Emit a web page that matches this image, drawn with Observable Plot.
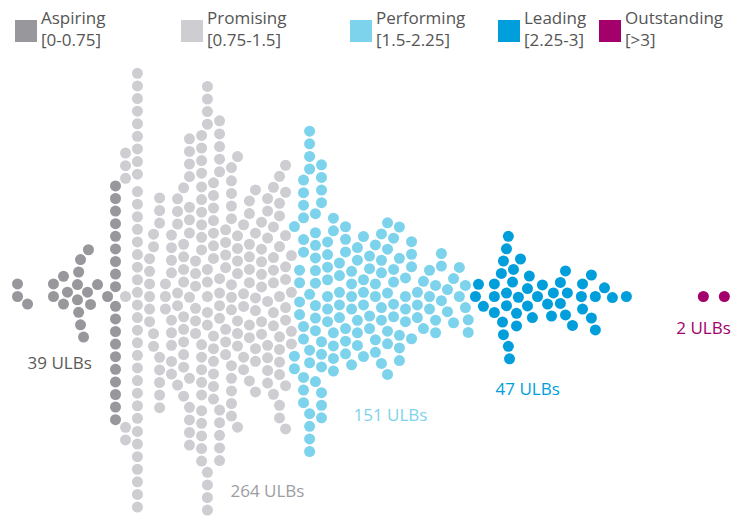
<!DOCTYPE html>
<html>
<head>
<meta charset="utf-8">
<script src="https://cdn.jsdelivr.net/npm/d3@7"></script>
<script src="https://cdn.jsdelivr.net/npm/@observablehq/plot@0.6"></script>
<style>
  html, body { margin: 0; padding: 0; background: #fff; }
  #wrap { position: relative; width: 743px; height: 520px; font-family: "Open Sans", sans-serif; }
  #legend { position: absolute; left: 0; top: 0; width: 743px; height: 55px; }
  .item { position: absolute; top: 7px; display: flex; align-items: flex-end; }
  .sw { width: 22px; height: 22px; margin-right: 4px; margin-bottom: 9px; }
  .lbl { font-size: 17px; line-height: 22px; color: #555; }
  #chart { position: absolute; left: 0; top: 0; }
</style>
</head>
<body>
<div id="wrap">
  <div id="chart"></div>
  <div id="legend"></div>
</div>
<script>
// Categories and legend texts
const categories = ["Aspiring", "Promising", "Performing", "Leading", "Outstanding"];
const rangeLabels = ["[0-0.75]", "[0.75-1.5]", "[1.5-2.25]", "[2.25-3]", "[>3]"];
const ulbCounts = [39, 264, 151, 47, 2];
const labelScores = [0.360, 1.230, 1.757, 2.366, 3.141];

// Scores with the number of ULBs at each score
const aspiringScores = [0.317, 0.360, 0.471, 0.514, 0.531, 0.574, 0.579, 0.587, 0.600, 0.617, 0.621, 0.630, 0.660, 0.703, 0.737];
const aspiringCounts = [2, 1, 2, 2, 1, 2, 2, 2, 1, 1, 1, 1, 1, 1, 19];

const promisingScores = [0.780, 0.831, 0.883, 0.900, 0.926, 0.951, 0.977, 1.003, 1.029, 1.054, 1.080, 1.106, 1.131, 1.157, 1.183, 1.209, 1.234, 1.260, 1.286, 1.311, 1.337, 1.363, 1.389, 1.414, 1.440, 1.466, 1.491];
const promisingCounts = [6, 35, 6, 4, 8, 3, 9, 6, 11, 13, 6, 20, 13, 13, 14, 7, 13, 9, 5, 9, 7, 7, 8, 8, 11, 9, 4];

const performingScores = [1.504, 1.526, 1.543, 1.569, 1.594, 1.620, 1.646, 1.671, 1.697, 1.723, 1.749, 1.774, 1.800, 1.826, 1.851, 1.877, 1.903, 1.929, 1.954, 1.980, 2.006, 2.031, 2.057, 2.083, 2.109, 2.134, 2.160, 2.186, 2.211, 2.237, 2.249];
const performingCounts = [3, 4, 11, 11, 10, 10, 7, 6, 5, 6, 5, 5, 5, 4, 5, 6, 6, 5, 5, 4, 4, 3, 2, 3, 3, 3, 2, 2, 2, 2, 2];

const leadingScores = [2.280, 2.293, 2.314, 2.361, 2.391, 2.396, 2.400, 2.413, 2.421, 2.426, 2.439, 2.443, 2.456, 2.464, 2.473, 2.503, 2.511, 2.524, 2.546, 2.567, 2.589, 2.606, 2.614, 2.644, 2.666, 2.674, 2.696, 2.734, 2.739, 2.777, 2.794, 2.833, 2.867, 2.927];
const leadingCounts = [1, 1, 1, 3, 1, 1, 2, 3, 2, 1, 1, 1, 2, 1, 1, 2, 1, 1, 1, 1, 1, 1, 1, 2, 2, 1, 1, 1, 2, 2, 2, 1, 1, 1];

const outstandingScores = [3.257, 3.347];
const outstandingCounts = [1, 1];

// Styles
const colors = ["#97979c", "#cdcdd2", "#7dd3eb", "#009edb", "#a3006b"];
const labelColors = ["#5a5a5a", "#9d9da2", "#7dd3eb", "#009edb", "#a3006b"];

const groups = [
  [aspiringScores, aspiringCounts],
  [promisingScores, promisingCounts],
  [performingScores, performingCounts],
  [leadingScores, leadingCounts],
  [outstandingScores, outstandingCounts]
];
const points = [];
groups.forEach(([s, c], gi) => {
  s.forEach((v, i) => { for (let k = 0; k < c[i]; k++) points.push({score: v, cat: categories[gi]}); });
});

const labels = categories.map((c, i) => ({cat: c, score: labelScores[i], text: `${ulbCounts[i]} ULBs`}));
const labelDy = [284, 412, 336, 310, 249];

const chart = Plot.plot({
  width: 743,
  height: 520,
  marginTop: 72,
  marginBottom: 0,
  marginLeft: 0,
  marginRight: 0,
  x: {domain: [0.244, 3.429], axis: null},
  color: {domain: categories, range: colors},
  style: {fontFamily: "Open Sans, sans-serif", background: "transparent"},
  marks: [
    Plot.dot(points, Plot.dodgeY({anchor: "middle", padding: 1.6}, {x: "score", r: 5.5, fill: "cat"})),
    ...labels.map((l, i) => Plot.text([l], {
      x: "score", text: "text", frameAnchor: "top", dy: labelDy[i], textAnchor: "start",
      fill: labelColors[i], fontSize: 17
    }))
  ]
});
document.getElementById("chart").appendChild(chart);

const legendLeft = [15, 181, 350, 498, 599];
const legend = document.getElementById("legend");
categories.forEach((c, i) => {
  const it = document.createElement("div");
  it.className = "item";
  it.style.left = legendLeft[i] + "px";
  it.innerHTML = `<div class="sw" style="background:${colors[i]}"></div><div class="lbl">${c}<br>${rangeLabels[i]}</div>`;
  legend.appendChild(it);
});
</script>
</body>
</html>
